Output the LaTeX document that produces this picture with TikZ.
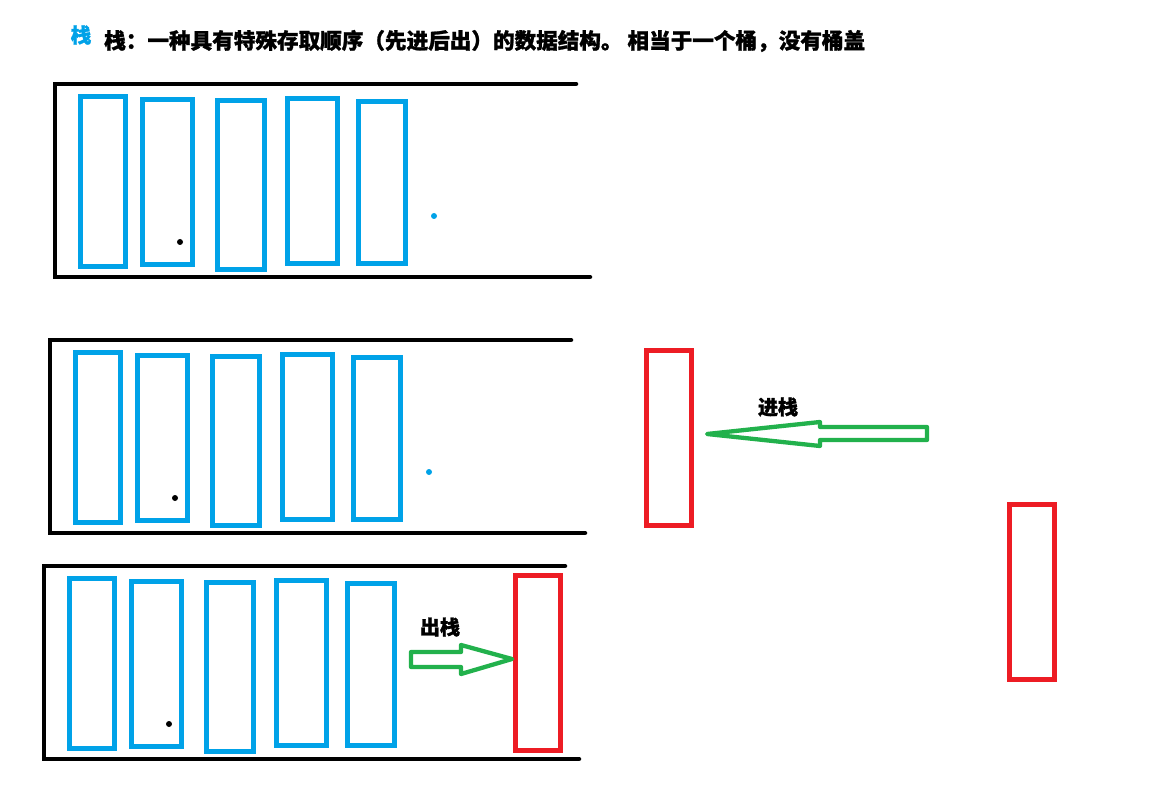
\documentclass[tikz,border=0pt]{standalone}
\usepackage{fontspec}
\newfontfamily\cjk[BoldFeatures={FakeBold=1.2}]{Noto Sans CJK SC}
\definecolor{paintblue}{HTML}{00A2E8}
\definecolor{paintred}{HTML}{ED1C24}
\definecolor{paintgreen}{HTML}{22B14C}
\tikzset{
  cell/.style={draw=paintblue,line width=4.7pt,inner sep=0pt,outer sep=0pt},
  popbox/.style={draw=paintred,line width=5pt,inner sep=0pt,outer sep=0pt,minimum width=45pt,minimum height=175pt},
  wall/.style={draw=black,line width=4.5pt,line cap=round,line join=miter},
  blockarrow/.style={draw=paintgreen,line width=4.3pt,line join=round},
  lbl/.style={inner sep=0pt,font=\cjk\bfseries\fontsize{20}{22}\selectfont},
}
\begin{document}
\begin{tikzpicture}[x=1pt,y=-1pt]
\useasboundingbox (0,0) rectangle (1175,810);
% title
\node[inner sep=0pt,text=paintblue,font=\cjk\bfseries\fontsize{20.5}{22}\selectfont] (ttag) at (81,35) {栈};
\node[inner sep=0pt,anchor=west,font=\cjk\bfseries\fontsize{21.6}{24}\selectfont] (title) at (104,41) {栈：一种具有特殊存取顺序（先进后出）的数据结构。 相当于一个桶，没有桶盖};
% three buckets (same drawing, shifted)
\foreach \f/\dx/\dy in {1/0/0,2/-5/256,3/-11/482}{
  \begin{scope}[shift={(\dx,\dy)}]
    \draw[wall] (576,84) -- (53,84) -- (55,84) -- (55,277) -- (590,277);
    \node[cell,minimum width=45pt,minimum height=170pt] (f\f c1) at (103,181.5) {};
    \node[cell,minimum width=50pt,minimum height=165pt] (f\f c2) at (167.5,182) {};
    \node[cell,minimum width=47pt,minimum height=169pt] (f\f c3) at (241,185) {};
    \node[cell,minimum width=50pt,minimum height=165pt] (f\f c4) at (312.5,181) {};
    \node[cell,minimum width=47pt,minimum height=162pt] (f\f c5) at (382,182.5) {};
    \fill[black] (180,242) circle (3pt);
  \end{scope}
}
\fill[paintblue] (434,216) circle (3pt);
\fill[paintblue] (429,472) circle (3pt);
% push
\node[popbox] (push) at (668.5,437.5) {};
\node[popbox] (spare) at (1032,592) {};
\draw[blockarrow] (707,434) -- (820,422) -- (820,427) -- (927,427) -- (927,440) -- (820,440) -- (820,446) -- cycle;
\node[lbl] (pushlbl) at (778,407) {进栈};
% pop
\node[popbox] (pop) at (538,663) {};
\draw[blockarrow] (411,652) -- (461,652) -- (461,645) -- (512,659) -- (461,674) -- (461,667) -- (411,667) -- cycle;
\node[lbl] (poplbl) at (440,627) {出栈};
\end{tikzpicture}
\end{document}
